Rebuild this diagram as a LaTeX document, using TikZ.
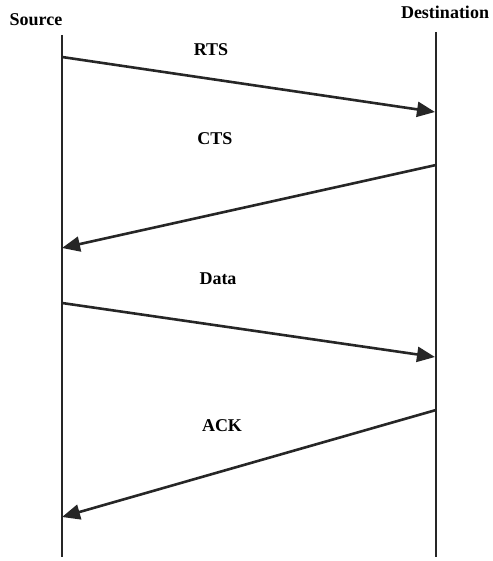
\documentclass[tikz,border=0pt]{standalone}
\usepackage{fontspec}
\setmainfont{Liberation Serif}
\usetikzlibrary{arrows.meta}

\begin{document}
\begin{tikzpicture}[
    x=1pt, y=-1pt,
    station/.style={inner sep=0pt, anchor=base, font=\fontsize{18}{21}\selectfont\bfseries},
    lifeline/.style={draw, line width=2.8pt, black!85},
    msg/.style={draw, line width=2.6pt, black!85, -{Triangle[length=18pt, width=15pt]}},
    lbl/.style={inner sep=0pt, anchor=base, font=\fontsize{18}{21}\selectfont\bfseries}
]
\useasboundingbox (0,0) rectangle (492,561);

% Station headers
\node[station] (src) at (36,26) {Source};
\node[station] (dst) at (445,19) {Destination};

% Lifeline ends
\coordinate (srctop) at (62,35);
\coordinate (srcbot) at (62,557);
\coordinate (dsttop) at (436,32);
\coordinate (dstbot) at (436,557);

% Vertical lifelines
\draw[lifeline] (srctop) -- (srcbot);
\draw[lifeline] (dsttop) -- (dstbot);

% Message end points on the lifelines
\coordinate (rts0) at (62,57);   \coordinate (rts1) at (435,112);
\coordinate (cts0) at (436,165); \coordinate (cts1) at (62,248);
\coordinate (dat0) at (62,303);  \coordinate (dat1) at (435,357);
\coordinate (ack0) at (436,410); \coordinate (ack1) at (62,517);

% Messages
\draw[msg] (rts0) -- (rts1);
\draw[msg] (cts0) -- (cts1);
\draw[msg] (dat0) -- (dat1);
\draw[msg] (ack0) -- (ack1);

% Message labels
\node[lbl] (rts) at (211,56) {RTS};
\node[lbl] (cts) at (215,145) {CTS};
\node[lbl] (dat) at (218,284) {Data};
\node[lbl] (ack) at (222,431) {ACK};

\end{tikzpicture}
\end{document}
